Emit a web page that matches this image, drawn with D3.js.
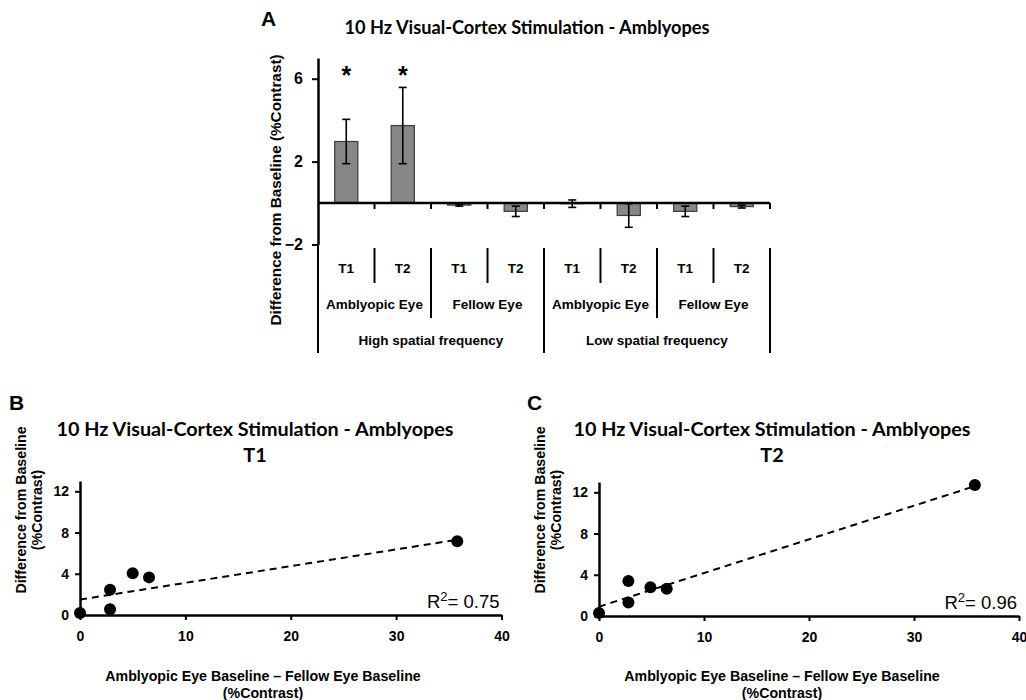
<!DOCTYPE html>
<html><head><meta charset="utf-8">
<script src="https://cdn.jsdelivr.net/npm/d3@7"></script>
<style>
body{margin:0;background:#fff}
svg{display:block}
text{font-family:"Liberation Sans",Arial,sans-serif;fill:#000}
.ttl{font-family:Lato,"Open Sans",sans-serif;font-weight:700}
</style>
</head><body>
<svg id="chart" width="1026" height="700"></svg>
<script>
// ---------- Panel A data ----------
const barCategories = ["HF-AE-T1","HF-AE-T2","HF-FE-T1","HF-FE-T2","LF-AE-T1","LF-AE-T2","LF-FE-T1","LF-FE-T2"];
const timeLabels = ["T1","T2","T1","T2","T1","T2","T1","T2"];
const eyeLabels = ["Amblyopic Eye","Fellow Eye","Amblyopic Eye","Fellow Eye"];
const freqLabels = ["High spatial frequency","Low spatial frequency"];
const barValues = [2.97, 3.74, -0.10, -0.40, -0.03, -0.60, -0.40, -0.17];
const barErrors = [1.07, 1.84, 0.05, 0.25, 0.18, 0.57, 0.25, 0.07];
const significant = [true, true, false, false, false, false, false, false];
const yTicksA = [-2, 2, 6];

// ---------- Panel B / C data ----------
const xDiffB = [0, 2.85, 2.85, 5.0, 6.55, 35.8];
const yDiffB = [0.2, 2.45, 0.55, 4.05, 3.65, 7.15];
const trendXB = [0, 35.8];
const trendYB = [1.5, 7.3];
const xDiffC = [0, 2.8, 2.8, 4.9, 6.45, 35.8];
const yDiffC = [0.3, 3.4, 1.3, 2.8, 2.65, 12.7];
const trendXC = [0, 35.8];
const trendYC = [0.9, 12.6];
const xTicksS = [0, 10, 20, 30, 40];
const yTicksS = [0, 4, 8, 12];
const r2Labels = ["0.75", "0.96"];

const svg = d3.select("#chart");

// ================= Panel A =================
const gA = svg.append("g");
const xA = d3.scaleBand().domain(barCategories).range([318, 770]).paddingInner(0.59).paddingOuter(0.295);
const yA = d3.scaleLinear().domain([-2, 7]).range([244.5, 58]);
const step = xA.step();
const bx = i => 318 + i * step;

gA.append("text").attr("x", 261).attr("y", 26).attr("font-size", 21).attr("font-weight", 700).text("A");
gA.append("text").attr("class", "ttl").attr("x", 527).attr("y", 34).attr("text-anchor", "middle")
  .attr("font-size", 18.2).text("10 Hz Visual-Cortex Stimulation - Amblyopes");

// y axis
const yAxA = gA.append("g").attr("transform", "translate(318,0)")
  .call(d3.axisLeft(yA).tickValues(yTicksA).tickSize(6).tickSizeOuter(0).tickPadding(9));
yAxA.select(".domain").attr("stroke-width", 2.5);
yAxA.selectAll(".tick line").attr("stroke-width", 2);
yAxA.selectAll(".tick text").attr("font-size", 16).attr("font-weight", 700);

gA.append("text").attr("transform", "translate(281,190) rotate(-90)").attr("text-anchor", "middle")
  .attr("font-size", 15.3).attr("font-weight", 700).text("Difference from Baseline (%Contrast)");

// bars
gA.selectAll(".bar").data(barValues).join("rect")
  .attr("x", (d, i) => xA(barCategories[i]))
  .attr("width", xA.bandwidth())
  .attr("y", d => yA(Math.max(0, d)))
  .attr("height", d => Math.abs(yA(d) - yA(0)))
  .attr("fill", "#878787").attr("stroke", "#3a3a3a").attr("stroke-width", 1.2);

// error bars
barValues.forEach((v, i) => {
  const cx = xA(barCategories[i]) + xA.bandwidth() / 2;
  const e = barErrors[i];
  const g = gA.append("g").attr("stroke", "#000").attr("stroke-width", 1.6);
  g.append("line").attr("x1", cx).attr("x2", cx).attr("y1", yA(v + e)).attr("y2", yA(v - e));
  g.append("line").attr("x1", cx - 4).attr("x2", cx + 4).attr("y1", yA(v + e)).attr("y2", yA(v + e));
  g.append("line").attr("x1", cx - 4).attr("x2", cx + 4).attr("y1", yA(v - e)).attr("y2", yA(v - e));
  if (significant[i]) {
    gA.append("text").attr("x", cx).attr("y", 84).attr("text-anchor", "middle")
      .attr("font-size", 25).attr("font-weight", 700).text("*");
  }
});

// zero axis
gA.append("line").attr("x1", 318).attr("x2", 770).attr("y1", yA(0)).attr("y2", yA(0))
  .attr("stroke", "#000").attr("stroke-width", 2.5);
d3.range(1, barCategories.length + 1).forEach(i => {
  gA.append("line").attr("x1", bx(i)).attr("x2", bx(i)).attr("y1", yA(0)).attr("y2", yA(0) + 6)
    .attr("stroke", "#000").attr("stroke-width", 2);
});

// multi-level category labels
d3.range(0, barCategories.length + 1).forEach(i => {
  const yEnd = (i % 4 === 0) ? 353 : (i % 2 === 0 ? 318 : 283);
  const yStart = i === 0 ? 244.5 : 248;
  gA.append("line").attr("x1", bx(i)).attr("x2", bx(i)).attr("y1", yStart).attr("y2", yEnd)
    .attr("stroke", "#000").attr("stroke-width", 2);
});
timeLabels.forEach((t, i) => {
  gA.append("text").attr("x", bx(i) + step / 2).attr("y", 273).attr("text-anchor", "middle")
    .attr("font-size", 13.5).attr("font-weight", 700).text(t);
});
eyeLabels.forEach((t, i) => {
  gA.append("text").attr("x", bx(i * 2) + step).attr("y", 309).attr("text-anchor", "middle")
    .attr("font-size", 13.5).attr("font-weight", 700).text(t);
});
freqLabels.forEach((t, i) => {
  gA.append("text").attr("x", bx(i * 4) + step * 2).attr("y", 345).attr("text-anchor", "middle")
    .attr("font-size", 13.5).attr("font-weight", 700).text(t);
});

// ================= Scatter panels =================
function scatter(opts) {
  const g = svg.append("g");
  const x = d3.scaleLinear().domain([0, 40]).range([opts.x0, opts.x1]);
  const y = d3.scaleLinear().domain([0, 13]).range([opts.y0, opts.y0 - 134]);

  g.append("text").attr("x", opts.letterX).attr("y", 410).attr("font-size", 21).attr("font-weight", 700).text(opts.letter);
  g.append("text").attr("class", "ttl").attr("x", opts.titleX).attr("y", 436).attr("text-anchor", "middle")
    .attr("font-size", 19.8).text("10 Hz Visual-Cortex Stimulation - Amblyopes");
  g.append("text").attr("class", "ttl").attr("x", opts.titleX).attr("y", 462).attr("text-anchor", "middle")
    .attr("font-size", 19.8).text(opts.sub);

  const ax = g.append("g").attr("transform", `translate(0,${opts.y0})`)
    .call(d3.axisBottom(x).tickValues(xTicksS).tickSize(5).tickSizeOuter(0).tickPadding(11));
  const ay = g.append("g").attr("transform", `translate(${opts.x0},0)`)
    .call(d3.axisLeft(y).tickValues(yTicksS).tickSize(5).tickSizeOuter(0).tickPadding(6));
  [ax, ay].forEach(a => {
    a.select(".domain").attr("stroke-width", 2.5);
    a.selectAll(".tick line").attr("stroke-width", 2);
    a.selectAll(".tick text").attr("font-size", 14).attr("font-weight", 700);
  });

  g.append("text").attr("transform", `translate(${opts.yl1},510) rotate(-90)`).attr("text-anchor", "middle")
    .attr("font-size", 14.2).attr("font-weight", 700).text("Difference from Baseline");
  g.append("text").attr("transform", `translate(${opts.yl2},510) rotate(-90)`).attr("text-anchor", "middle")
    .attr("font-size", 14.2).attr("font-weight", 700).text("(%Contrast)");

  g.append("text").attr("x", opts.xtX).attr("y", 681).attr("text-anchor", "middle")
    .attr("font-size", 14.2).attr("font-weight", 700).text("Amblyopic Eye Baseline \u2013 Fellow Eye Baseline");
  g.append("text").attr("x", opts.xtX).attr("y", 698).attr("text-anchor", "middle")
    .attr("font-size", 14.2).attr("font-weight", 700).text("(%Contrast)");

  g.append("line")
    .attr("x1", x(opts.tx[0])).attr("y1", y(opts.ty[0]))
    .attr("x2", x(opts.tx[1])).attr("y2", y(opts.ty[1]))
    .attr("stroke", "#000").attr("stroke-width", 2).attr("stroke-dasharray", "7,5");

  g.selectAll("circle").data(opts.xs).join("circle")
    .attr("cx", d => x(d)).attr("cy", (d, i) => y(opts.ys[i])).attr("r", 6).attr("fill", "#000");

  const rt = g.append("text").attr("x", opts.x1 - 2).attr("y", opts.y0 - 7).attr("text-anchor", "end")
    .attr("font-size", 18.5);
  rt.append("tspan").text("R");
  rt.append("tspan").attr("font-size", 13).attr("dy", -7).text("2");
  rt.append("tspan").attr("dy", 7).text("= " + opts.r2);
}

scatter({x0: 80, x1: 501.5, y0: 615, letter: "B", letterX: 9, titleX: 255, sub: "T1",
  yl1: 26, yl2: 42, xtX: 263, xs: xDiffB, ys: yDiffB, tx: trendXB, ty: trendYB, r2: r2Labels[0]});
scatter({x0: 599, x1: 1019, y0: 616, letter: "C", letterX: 527, titleX: 772, sub: "T2",
  yl1: 545, yl2: 561, xtX: 782, xs: xDiffC, ys: yDiffC, tx: trendXC, ty: trendYC, r2: r2Labels[1]});
</script>
</body></html>
